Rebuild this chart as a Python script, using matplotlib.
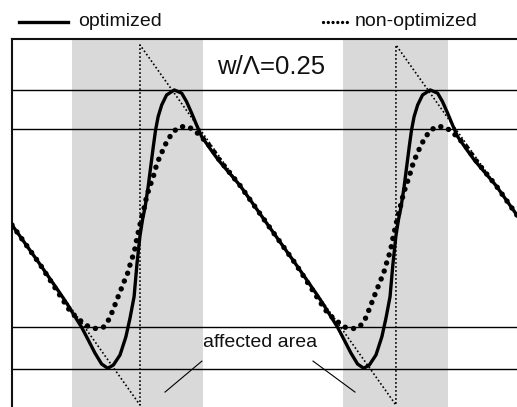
import numpy as np
import matplotlib
matplotlib.use("Agg")
import matplotlib.pyplot as plt
from matplotlib.lines import Line2D

plt.rcParams['font.family'] = ['Liberation Sans', 'DejaVu Sans']

# ---- data (x in units of the period Lambda, y normalised amplitude) ----
period_shifts = [0, 1]

# ideal sawtooth corners
saw_x = [-0.5, 0.0, 0.0, 1.0, 1.0, 1.5]
saw_y = [0.0, -1.0, 1.0, -1.0, 1.0, 0.0]

# optimized curve, one period
opt_x = [-0.5, -0.391, -0.3125, -0.286, -0.254, -0.228, -0.202, -0.176, -0.150,
         -0.126, -0.104, -0.078, -0.055, -0.039, -0.023, -0.012, 0.0, 0.010,
         0.020, 0.032, 0.042, 0.052, 0.061, 0.071, 0.085, 0.104, 0.134, 0.163,
         0.182, 0.202, 0.221, 0.241, 0.273, 0.306, 0.391, 0.5]
opt_y = [0.0, -0.218, -0.379, -0.435, -0.509, -0.568, -0.639, -0.711, -0.772,
         -0.796, -0.778, -0.722, -0.621, -0.518, -0.398, -0.22, -0.06, 0.03,
         0.10, 0.213, 0.324, 0.435, 0.528, 0.602, 0.667, 0.722, 0.750, 0.732,
         0.685, 0.621, 0.556, 0.491, 0.426, 0.361, 0.219, 0.0]

# non-optimized curve, one period
non_x = [-0.5, -0.391, -0.297, -0.276, -0.254, -0.228, -0.198, -0.169, -0.143,
         -0.120, -0.104, -0.089, -0.075, -0.061, -0.048, -0.039, -0.029, -0.020,
         -0.011, -0.003, 0.007, 0.016, 0.023, 0.032, 0.042, 0.052, 0.061, 0.071,
         0.085, 0.098, 0.113, 0.130, 0.156, 0.189, 0.219, 0.241, 0.263, 0.284,
         0.302, 0.391, 0.5]
non_y = [0.0, -0.218, -0.426, -0.472, -0.506, -0.537, -0.568, -0.576, -0.568,
         -0.522, -0.467, -0.411, -0.361, -0.311, -0.267, -0.222, -0.178, -0.133,
         -0.067, -0.017, 0.046, 0.093, 0.139, 0.185, 0.228, 0.268, 0.315, 0.357,
         0.402, 0.444, 0.482, 0.518, 0.546, 0.546, 0.518, 0.487, 0.454, 0.417,
         0.376, 0.219, 0.0]

# reference levels (horizontal lines)
levels = [0.75, 0.535, -0.568, -0.800]

# shaded "affected" regions
shade_start = [-0.267, 0.793]
shade_end = [0.248, 1.203]

label_opt = "optimized"
label_non = "non-optimized"
ratio_text = "w/\u039b=0.25"
area_text = "affected area"

# ---- figure ----
W, H = 517, 407
fig = plt.figure(figsize=(W / 100, H / 100), dpi=100)
ax = fig.add_axes([12 / W, 0.0, 1 - 12 / W, 1 - 39 / H])
ax.set_xlim(-0.5, 1.473)
ax.set_ylim(-1.011, 1.033)
for s in ['right', 'bottom']:
    ax.spines[s].set_visible(False)
for s in ['left', 'top']:
    ax.spines[s].set_linewidth(1.5)
    ax.spines[s].set_color('#111111')
ax.set_xticks([])
ax.set_yticks([])

for a, b in zip(shade_start, shade_end):
    ax.axvspan(a, b, color='#d9d9d9', lw=0, zorder=0)

for lv in levels:
    ax.axhline(lv, color='black', lw=1.0, zorder=1)

ax.plot(saw_x, saw_y, color='black', lw=1.2, linestyle=(0, (1, 1.4)), zorder=2)

def tile(xs, ys):
    X, Y = [], []
    for k in period_shifts:
        for i, (x, y) in enumerate(zip(xs, ys)):
            if k > 0 and i == 0:
                continue
            X.append(x + k)
            Y.append(y)
    return np.array(X), np.array(Y)

ox, oy = tile(opt_x, opt_y)
nx, ny = tile(non_x, non_y)

ax.plot(ox, oy, color='black', lw=2.4, solid_capstyle='round',
        solid_joinstyle='round', zorder=3)
ax.plot(nx, ny, color='black', lw=3.9, linestyle=(0, (0.01, 1.55)),
        dash_capstyle='round', zorder=4)

# texts
ax.text(0.301, 0.839, ratio_text, fontsize=18.5, ha='left', va='baseline',
        color='#111111')
ax.text(0.246, -0.678, area_text, fontsize=14, ha='left', va='baseline',
        color='#111111')
ax.plot([0.098, 0.242], [-0.928, -0.756], color='black', lw=0.8, zorder=5)
ax.plot([0.676, 0.840], [-0.756, -0.928], color='black', lw=0.8, zorder=5)

# legend drawn above the axes
fig.add_artist(Line2D([19 / W, 68 / W], [1 - 21.5 / H] * 2, color='black', lw=2.4,
                      transform=fig.transFigure))
fig.text(78 / W, 1 - 26 / H, label_opt, fontsize=14, ha='left', va='baseline',
         color='#111111')
fig.add_artist(Line2D([323 / W, 351 / W], [1 - 22 / H] * 2, color='black', lw=2.4,
                      linestyle=(0, (0.01, 1.42)), dash_capstyle='round',
                      transform=fig.transFigure))
fig.text(355 / W, 1 - 26 / H, label_non, fontsize=14, ha='left', va='baseline',
         color='#111111')

fig.savefig('out.png', dpi=100)
